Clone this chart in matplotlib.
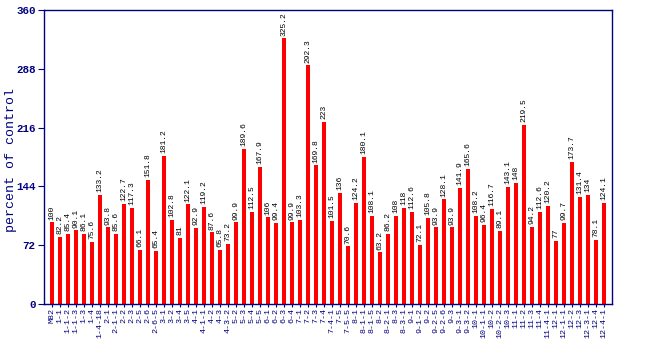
import matplotlib
matplotlib.use("Agg")
import matplotlib.pyplot as plt
import numpy as np

# sample names (introgression lines) and percent of control
samples = ["M82", "1-1", "1-1-2", "1-1-3", "1-3", "1-4", "1-4-18", "2-1", "2-1-1", "2-2",
           "2-3", "2-5", "2-6", "2-6-5", "3-1", "3-2", "3-4", "3-5", "4-1", "4-1-1",
           "4-2", "4-3", "4-3-2", "5-2", "5-3", "5-4", "5-5", "6-1", "6-2", "6-3",
           "6-4", "7-1", "7-2", "7-3", "7-4", "7-4-1", "7-5", "7-5-5", "8-1", "8-1-1",
           "8-1-5", "8-2", "8-2-1", "8-3", "8-3-1", "9-1", "9-1-2", "9-2", "9-2-5", "9-2-6",
           "9-3", "9-3-1", "9-3-2", "10-1", "10-1-1", "10-2", "10-2-2", "10-3", "11-1", "11-2",
           "11-3", "11-4", "11-4-1", "12-1", "12-1-1", "12-2", "12-3", "12-3-1", "12-4", "12-4-1"]
values = [100, 82.2, 85.4, 90.1, 86.1, 75.6, 133.2, 93.8, 85.6, 122.7,
          117.3, 66.1, 151.8, 65.4, 181.2, 102.8, 81, 122.1, 92.9, 119.2,
          87.6, 65.8, 73.2, 99.9, 189.6, 112.5, 167.9, 106, 99.4, 325.2,
          99.9, 103.3, 292.3, 169.8, 223, 101.5, 136, 70.6, 124.2, 180.1,
          108.1, 63.2, 86.2, 108, 118, 112.6, 72.1, 105.8, 93.9, 128.1,
          93.9, 141.9, 165.6, 108.2, 96.4, 116.7, 89.1, 143.1, 148, 219.5,
          94.2, 112.6, 120.2, 77, 99.7, 173.7, 131.4, 134, 78.1, 124.1]
yticks = [0, 72, 144, 216, 288, 360]

navy = "#000080"
mono = "Liberation Mono"

fig = plt.figure(figsize=(6.5, 3.5), dpi=100)
ax = fig.add_axes([44 / 650, 1 - 304 / 350, (612 - 44) / 650, (304 - 10) / 350])

x = np.arange(len(values))
ax.bar(x, values, width=0.42, color="#ff0000", zorder=2)

for xi, v in zip(x, values):
    ax.annotate(f"{v:g}", (xi, v), xytext=(0, 2), textcoords="offset points",
                rotation=90, ha="center", va="bottom", fontsize=5.8,
                family=mono, color="black")

ax.set_xlim(-1, 70)
ax.set_ylim(0, 360)
ax.set_yticks(yticks)
ax.set_yticklabels([str(t) for t in yticks], family=mono, fontweight="bold",
                   fontsize=7.8, color=navy)
ax.set_xticks(x)
ax.set_xticklabels(samples, rotation=90, family=mono, fontsize=6, color=navy)
ax.tick_params(axis="y", length=4, color=navy, pad=2)
ax.tick_params(axis="x", length=2, color=navy, pad=1)

for s in ax.spines.values():
    s.set_color(navy)
    s.set_linewidth(1)

ax.set_ylabel("percent of control", family=mono, fontsize=9.5, color=navy, va="center")
ax.yaxis.set_label_coords(-0.058, 0.49)

fig.savefig("out.png", dpi=100)
